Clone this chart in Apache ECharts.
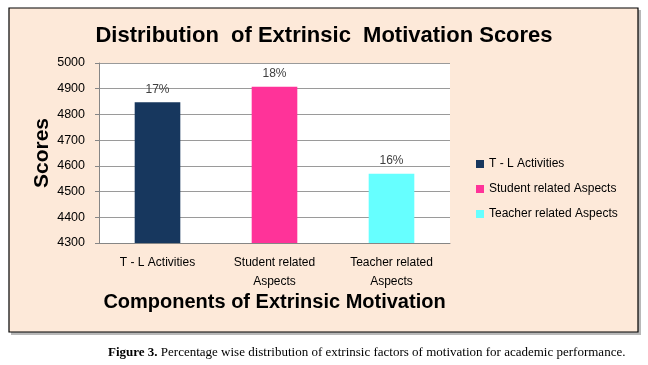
<!DOCTYPE html>
<html>
<head>
<meta charset="utf-8">
<script src="https://cdn.jsdelivr.net/npm/echarts@6/dist/echarts.min.js"></script>
<style>
html,body{margin:0;padding:0;background:#fff;}
#main{width:648px;height:365px;}
</style>
</head>
<body>
<div id="main"></div>
<script>
var categories = ['T - L Activities', 'Student related\nAspects', 'Teacher related\nAspects'];
var seriesNames = ['T - L Activities', 'Student related Aspects', 'Teacher related Aspects'];
var scores = [4847, 4908, 4569];
var percents = ['17%', '18%', '16%'];
var colors = ['#17375E', '#FF3399', '#66FFFF'];
var yTicks = { min: 4300, max: 5000, interval: 100 };

var chart = echarts.init(document.getElementById('main'), null, { renderer: 'canvas' });

var series = seriesNames.map(function (name, i) {
  var data = categories.map(function (c, j) { return j === i ? scores[j] : null; });
  return {
    name: name,
    type: 'bar',
    stack: 'all',
    barWidth: '39%',
    data: data,
    itemStyle: { color: colors[i] },
    label: {
      show: true,
      position: 'top',
      distance: 7,
      formatter: function () { return percents[i]; },
      fontFamily: 'Liberation Sans',
      fontSize: 12,
      color: '#404040'
    }
  };
});

chart.setOption({
  backgroundColor: '#ffffff',
  animation: false,
  graphic: [
    { type: 'rect', shape: { x: 11, y: 10, width: 630, height: 325 }, style: { fill: '#b8b8b8' }, z: -12 },
    { type: 'rect', shape: { x: 9, y: 8, width: 629, height: 324 }, style: { fill: '#FDE9D9', stroke: '#000000', lineWidth: 1.2 }, z: -11 },
    { type: 'rect', shape: { x: 99, y: 63, width: 351, height: 180 }, style: { fill: '#ffffff' }, z: -10 },
    {
      type: 'text', left: 108, top: 346,
      style: {
        text: '{b|Figure 3.} Percentage wise distribution of extrinsic factors of motivation for academic performance.',
        fontFamily: 'Liberation Serif', fontSize: 13, fill: '#000',
        rich: { b: { fontFamily: 'Liberation Serif', fontWeight: 'bold', fontSize: 13 } }
      }
    }
  ],
  title: {
    text: 'Distribution  of Extrinsic  Motivation Scores',
    left: 'center',
    top: 20,
    textStyle: { fontFamily: 'Liberation Sans', fontWeight: 'bold', fontSize: 22, color: '#000' }
  },
  legend: {
    orient: 'vertical',
    left: 471,
    top: 153,
    itemWidth: 8,
    itemHeight: 8,
    itemGap: 13,
    itemTextGap: 4,
    icon: 'rect',
    data: seriesNames,
    textStyle: { fontFamily: 'Liberation Sans', fontSize: 12, color: '#000' }
  },
  grid: { left: 99, right: 198, top: 63, bottom: 122 },
  xAxis: {
    type: 'category',
    data: categories,
    name: 'Components of Extrinsic Motivation',
    nameLocation: 'middle',
    nameGap: 49,
    nameMoveOverlap: false,
    nameTextStyle: { fontFamily: 'Liberation Sans', fontWeight: 'bold', fontSize: 20, color: '#000' },
    axisLine: { lineStyle: { color: '#868686' } },
    axisTick: { show: false },
    axisLabel: { fontFamily: 'Liberation Sans', fontSize: 12, color: '#000', margin: 10, lineHeight: 19, interval: 0 }
  },
  yAxis: {
    type: 'value',
    min: yTicks.min,
    max: yTicks.max,
    interval: yTicks.interval,
    name: 'Scores',
    nameLocation: 'middle',
    nameGap: 46,
    nameMoveOverlap: false,
    nameTextStyle: { fontFamily: 'Liberation Sans', fontWeight: 'bold', fontSize: 21, color: '#000' },
    axisLine: { show: true, lineStyle: { color: '#868686' } },
    axisTick: { show: true, length: 4, lineStyle: { color: '#868686' } },
    axisLabel: { fontFamily: 'Liberation Sans', fontSize: 12.5, color: '#000', margin: 14, formatter: function (v) { return String(v); } },
    splitLine: { lineStyle: { color: '#9a9a9a' } }
  },
  series: series
});
</script>
</body>
</html>
